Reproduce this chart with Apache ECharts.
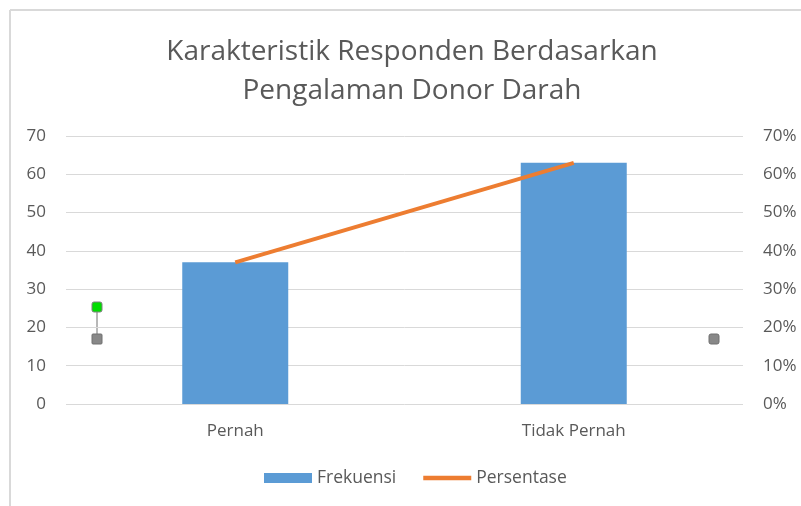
<!DOCTYPE html>
<html>
<head>
<meta charset="utf-8">
<script src="https://cdn.jsdelivr.net/npm/echarts@6/dist/echarts.min.js"></script>
<style>
body{margin:0;background:#fff;}
#chart{width:801px;height:506px;}
</style>
</head>
<body>
<div id="chart"></div>
<script>
// data
var categories = ['Pernah', 'Tidak Pernah'];
var frekuensi = [37, 63];
var persentase = [0.37, 0.63];

var mychart = echarts.init(document.getElementById('chart'));
var gray = '#595959';
var font = '"Open Sans", sans-serif';

option = {
    backgroundColor: '#fff',
    animation: false,
    title: {
        text: 'Karakteristik Responden Berdasarkan\nPengalaman Donor Darah',
        left: 407,
        textAlign: 'center',
        top: 28,
        textStyle: {
            color: gray,
            fontFamily: font,
            fontWeight: 'normal',
            fontSize: 28,
            lineHeight: 39
        }
    },
    legend: {
        bottom: 14,
        left: 259,
        itemGap: 27,
        textStyle: {color: gray, fontFamily: font, fontSize: 17.5},
        data: [
            {name: 'Frekuensi', icon: 'rect', itemStyle: {color: '#5b9bd5'}},
            {name: 'Persentase', icon: 'path://M0,0 L44,0 L44,4 L0,4 Z', itemStyle: {color: '#ed7d31'}}
        ],
        itemWidth: 48,
        itemHeight: 10
    },
    grid: {left: 66, right: 58, top: 136, bottom: 102},
    xAxis: {
        type: 'category',
        data: categories,
        axisLine: {show: false},
        axisTick: {show: false},
        axisLabel: {color: gray, fontFamily: font, fontSize: 17, margin: 19}
    },
    yAxis: [{
        type: 'value',
        min: 0, max: 70, interval: 10,
        axisLabel: {color: gray, fontFamily: font, fontSize: 17, margin: 20},
        splitLine: {lineStyle: {color: '#d9d9d9', width: 1}}
    }, {
        type: 'value',
        min: 0, max: 0.7, interval: 0.1,
        axisLabel: {
            color: gray, fontFamily: font, fontSize: 17, margin: 20,
            formatter: function(v){ return Math.round(v * 100) + '%'; }
        },
        splitLine: {show: false}
    }],
    series: [{
        name: 'Frekuensi',
        type: 'bar',
        data: frekuensi,
        barWidth: 106,
        itemStyle: {color: '#5b9bd5'}
    }, {
        name: 'Persentase',
        type: 'line',
        yAxisIndex: 1,
        data: persentase,
        symbol: 'none',
        lineStyle: {color: '#ed7d31', width: 4},
        itemStyle: {color: '#ed7d31'}
    }],
    graphic: [
        // chart frame
        {type: 'line', shape: {x1: 10, y1: 10, x2: 801, y2: 10}, style: {stroke: '#d9d9d9', lineWidth: 2}},
        {type: 'line', shape: {x1: 10, y1: 10, x2: 10, y2: 506}, style: {stroke: '#d9d9d9', lineWidth: 2}},
        // selection handles
        {type: 'line', shape: {x1: 97, y1: 307, x2: 97, y2: 339}, style: {stroke: '#707070', lineWidth: 1}},
        {type: 'rect', shape: {x: 92, y: 302, width: 10, height: 10, r: 2}, style: {fill: '#00dd00', stroke: '#808080', lineWidth: 1}},
        {type: 'rect', shape: {x: 92, y: 334, width: 10, height: 10, r: 1}, style: {fill: '#888888', stroke: '#707070', lineWidth: 1}},
        {type: 'rect', shape: {x: 709, y: 334, width: 10, height: 10, r: 2}, style: {fill: '#888888', stroke: '#707070', lineWidth: 1}}
    ]
};

mychart.setOption(option);
</script>
</body>
</html>
